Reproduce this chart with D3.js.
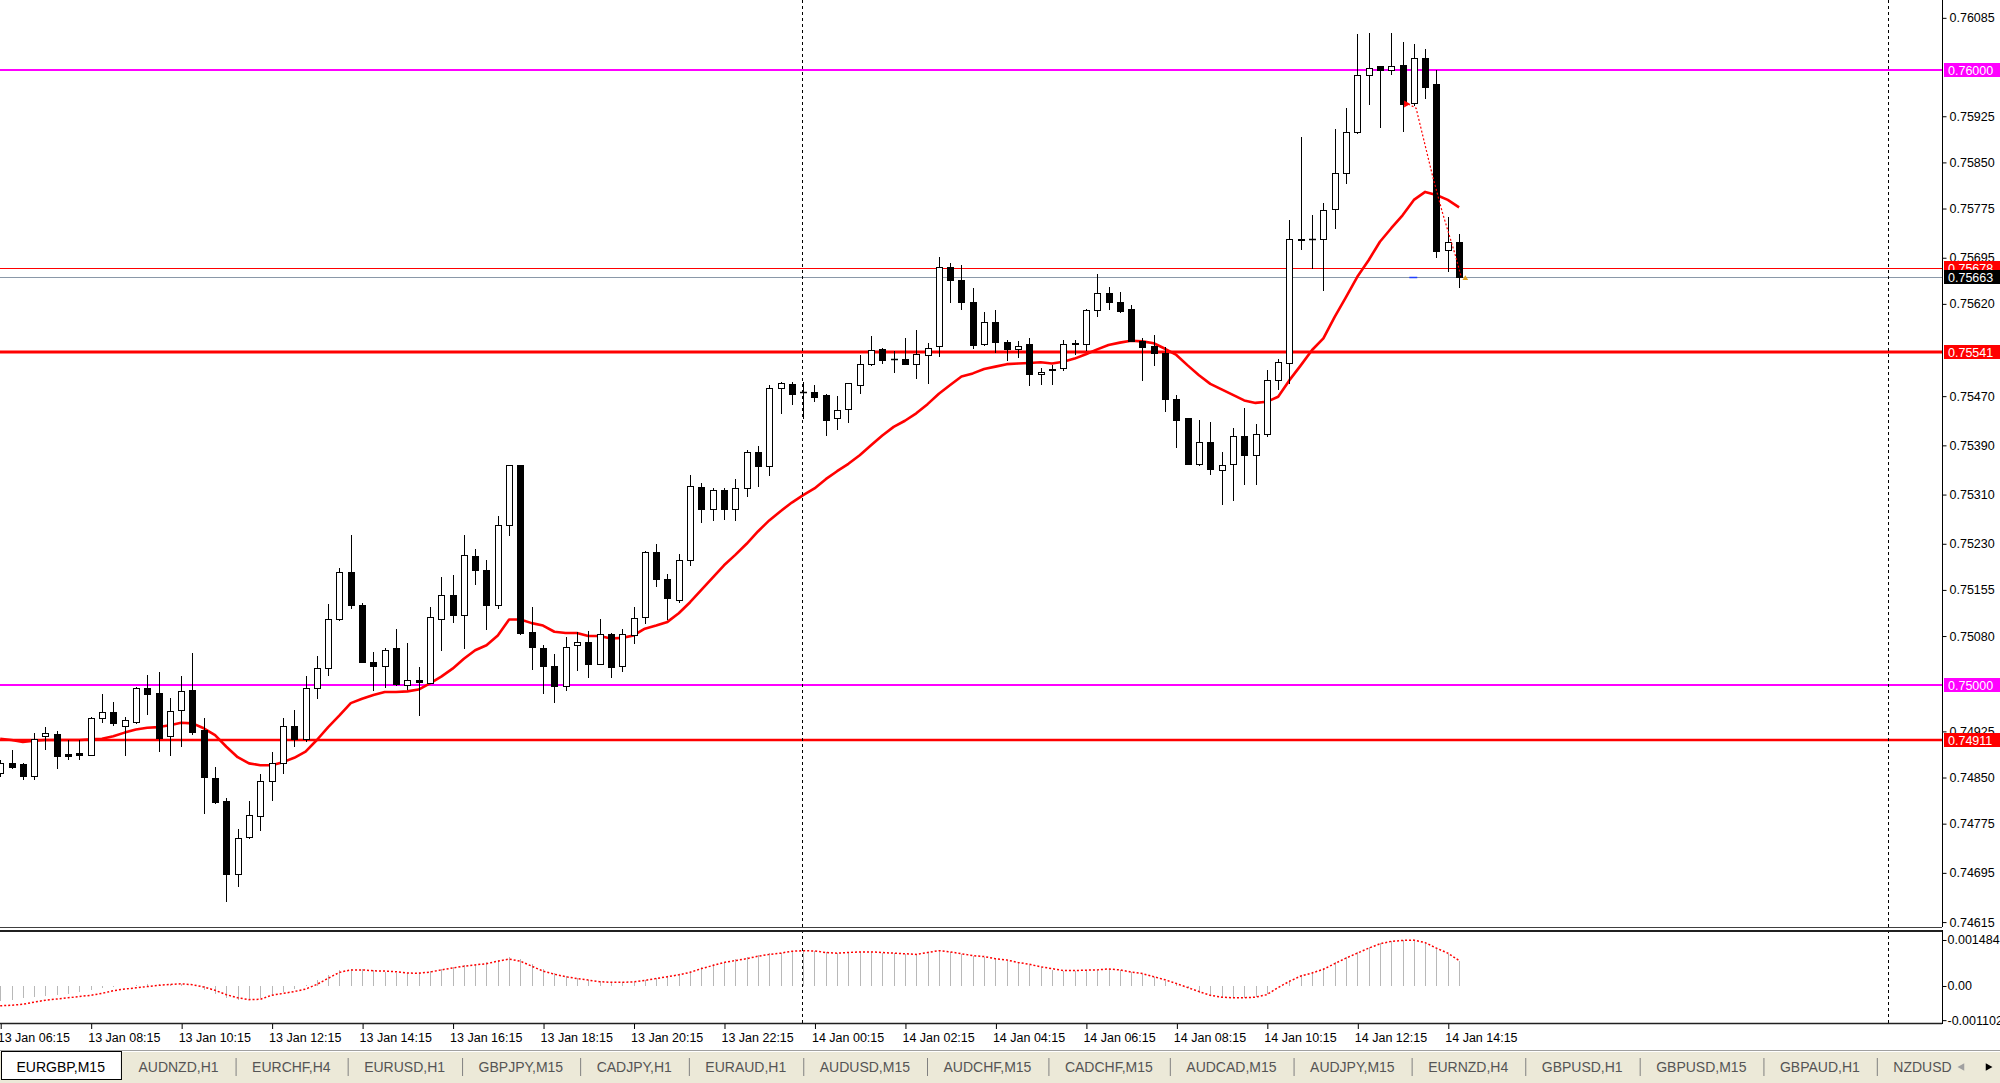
<!DOCTYPE html>
<html><head><meta charset="utf-8">
<script src="https://cdnjs.cloudflare.com/ajax/libs/d3/7.8.5/d3.min.js"></script>
<style>
body{margin:0;background:#fff;overflow:hidden}
svg{display:block}
text{font-family:"Liberation Sans",Arial,sans-serif}
</style>
</head><body>
<svg id="c" width="2000" height="1083"></svg>
<script>
// ---------------- DATA ----------------
const symbol = "EURGBP,M15";
const opens = [0.74858,0.74874,0.74872,0.74853,0.74917,0.74920,0.74888,0.74890,0.74887,0.74947,
0.74957,0.74934,0.74940,0.74996,0.74988,0.74918,0.74959,0.74992,0.74928,0.74849,
0.74812,0.74693,0.74754,0.74787,0.74844,0.74874,0.74933,0.74912,0.74996,0.75028,
0.75107,0.75184,0.75130,0.75037,0.75032,0.75061,0.75000,0.75009,0.75004,0.75108,
0.75146,0.75115,0.75210,0.75187,0.75131,0.75260,0.75358,0.75087,0.75061,0.75032,
0.74999,0.75065,0.75071,0.75035,0.75083,0.75032,0.75081,0.75111,0.75217,0.75172,
0.75138,0.75204,0.75322,0.75286,0.75318,0.75287,0.75320,0.75379,0.75356,0.75483,
0.75489,0.75476,0.75476,0.75472,0.75435,0.75449,0.75488,0.75522,0.75546,0.75531,
0.75530,0.75522,0.75537,0.75551,0.75680,0.75658,0.75623,0.75555,0.75591,0.75558,
0.75547,0.75554,0.75506,0.75514,0.75515,0.75556,0.75554,0.75610,0.75637,0.75623,
0.75612,0.75560,0.75552,0.75540,0.75465,0.75434,0.75359,0.75396,0.75350,0.75360,
0.75405,0.75375,0.75409,0.75497,0.75524,0.75724,0.75725,0.75725,0.75775,0.75832,
0.75899,0.75992,0.76007,0.76000,0.76008,0.75946,0.76019,0.75978,0.75708,0.75720];
const highs = [0.74878,0.74895,0.74874,0.74923,0.74932,0.74926,0.74911,0.74911,0.74949,0.74985,
0.74973,0.74948,0.74997,0.75017,0.75022,0.74980,0.75015,0.75052,0.74946,0.74867,
0.74817,0.74767,0.74812,0.74856,0.74891,0.74946,0.74959,0.75015,0.75047,0.75132,
0.75190,0.75245,0.75134,0.75054,0.75060,0.75092,0.75068,0.75029,0.75127,0.75176,
0.75180,0.75245,0.75222,0.75203,0.75275,0.75358,0.75358,0.75127,0.75065,0.75051,
0.75078,0.75086,0.75089,0.75107,0.75085,0.75092,0.75127,0.75218,0.75229,0.75181,
0.75214,0.75341,0.75329,0.75320,0.75320,0.75336,0.75382,0.75389,0.75488,0.75493,
0.75493,0.75493,0.75488,0.75473,0.75471,0.75492,0.75537,0.75568,0.75549,0.75543,
0.75564,0.75578,0.75557,0.75696,0.75686,0.75684,0.75645,0.75606,0.75610,0.75562,
0.75560,0.75564,0.75515,0.75520,0.75562,0.75562,0.75611,0.75668,0.75647,0.75640,
0.75618,0.75564,0.75569,0.75550,0.75472,0.75434,0.75432,0.75428,0.75379,0.75419,
0.75451,0.75424,0.75513,0.75531,0.75757,0.75891,0.75764,0.75784,0.75904,0.75939,
0.76059,0.76061,0.76007,0.76061,0.76046,0.76042,0.76035,0.76001,0.75761,0.75734];
const lows = [0.74852,0.74866,0.74847,0.74847,0.74897,0.74865,0.74880,0.74880,0.74886,0.74940,
0.74935,0.74887,0.74939,0.74954,0.74893,0.74887,0.74901,0.74921,0.74793,0.74809,
0.74650,0.74674,0.74752,0.74765,0.74814,0.74858,0.74901,0.74909,0.74979,0.75016,
0.75106,0.75126,0.75037,0.74993,0.74997,0.75000,0.74994,0.74951,0.75003,0.75057,
0.75103,0.75060,0.75165,0.75091,0.75126,0.75245,0.75083,0.75027,0.74988,0.74972,
0.74993,0.75024,0.75014,0.75035,0.75014,0.75023,0.75069,0.75101,0.75161,0.75107,
0.75135,0.75195,0.75265,0.75268,0.75271,0.75269,0.75307,0.75324,0.75341,0.75443,
0.75457,0.75434,0.75462,0.75407,0.75416,0.75428,0.75475,0.75520,0.75524,0.75510,
0.75522,0.75499,0.75492,0.75536,0.75623,0.75611,0.75549,0.75553,0.75542,0.75528,
0.75533,0.75488,0.75489,0.75489,0.75512,0.75539,0.75545,0.75600,0.75611,0.75607,
0.75559,0.75496,0.75521,0.75446,0.75387,0.75359,0.75358,0.75343,0.75294,0.75301,
0.75327,0.75327,0.75405,0.75482,0.75492,0.75710,0.75678,0.75643,0.75743,0.75816,
0.75897,0.75945,0.75907,0.75994,0.75901,0.75943,0.75954,0.75697,0.75674,0.75647];
const closes = [0.74873,0.74867,0.74852,0.74913,0.74923,0.74885,0.74885,0.74887,0.74947,0.74956,
0.74938,0.74943,0.74996,0.74986,0.74914,0.74958,0.74991,0.74924,0.74851,0.74810,
0.74693,0.74752,0.74789,0.74844,0.74873,0.74933,0.74912,0.74996,0.75028,0.75107,
0.75184,0.75131,0.75037,0.75032,0.75058,0.75002,0.75009,0.75005,0.75111,0.75146,
0.75115,0.75212,0.75188,0.75131,0.75260,0.75358,0.75085,0.75062,0.75031,0.74999,
0.75062,0.75071,0.75035,0.75083,0.75030,0.75083,0.75110,0.75217,0.75172,0.75142,
0.75204,0.75324,0.75287,0.75318,0.75287,0.75320,0.75379,0.75356,0.75483,0.75491,
0.75473,0.75476,0.75469,0.75432,0.75448,0.75491,0.75522,0.75545,0.75529,0.75530,
0.75523,0.75539,0.75549,0.75680,0.75658,0.75623,0.75553,0.75591,0.75558,0.75547,
0.75552,0.75506,0.75510,0.75513,0.75554,0.75555,0.75610,0.75637,0.75623,0.75609,
0.75560,0.75550,0.75540,0.75465,0.75432,0.75359,0.75396,0.75351,0.75358,0.75405,
0.75375,0.75409,0.75497,0.75526,0.75725,0.75725,0.75726,0.75772,0.75833,0.75899,
0.75992,0.76003,0.76001,0.76007,0.75945,0.76019,0.75973,0.75706,0.75720,0.75663];
const movingAverage = [0.74913,0.74911,0.74908,0.74910,0.74911,0.74911,0.74911,0.74911,0.74912,0.74913,
0.74917,0.74923,0.74928,0.74931,0.74932,0.74935,0.74939,0.74938,0.74930,0.74919,
0.74900,0.74883,0.74873,0.74870,0.74870,0.74875,0.74882,0.74892,0.74911,0.74932,
0.74951,0.74971,0.74978,0.74984,0.74989,0.74989,0.74990,0.74993,0.75003,0.75014,
0.75027,0.75043,0.75057,0.75065,0.75081,0.75107,0.75107,0.75101,0.75097,0.75087,
0.75085,0.75085,0.75080,0.75080,0.75076,0.75077,0.75081,0.75092,0.75097,0.75103,
0.75117,0.75135,0.75155,0.75175,0.75195,0.75212,0.75230,0.75250,0.75268,0.75283,
0.75297,0.75309,0.75320,0.75335,0.75348,0.75360,0.75374,0.75390,0.75406,0.75420,
0.75430,0.75442,0.75457,0.75474,0.75488,0.75502,0.75507,0.75514,0.75518,0.75522,
0.75523,0.75524,0.75525,0.75523,0.75526,0.75531,0.75538,0.75546,0.75553,0.75557,
0.75560,0.75559,0.75556,0.75547,0.75537,0.75520,0.75504,0.75490,0.75481,0.75472,
0.75463,0.75459,0.75461,0.75469,0.75496,0.75520,0.75545,0.75564,0.75599,0.75631,
0.75664,0.75691,0.75721,0.75743,0.75764,0.75789,0.75802,0.75797,0.75789,0.75777];
// MACD (units of 1e-5)
const macdMain = [-50,-45,-40,-37,-33,-30,-25,-18,-12,-8,
-4,0,3,6,8,8,6,0,-12,-25,
-38,-45,-45,-40,-30,-20,-10,2,18,35,
50,56,54,50,46,43,42,44,48,55,
62,68,72,78,85,92,88,72,55,42,
32,25,20,15,12,12,14,20,27,33,
40,48,60,70,78,86,92,100,105,108,
114,116,114,109,106,108,110,110,107,105,
103,101,109,115,110,103,97,93,86,82,
74,67,60,53,48,48,50,53,56,52,
44,38,28,17,5,-8,-22,-33,-38,-40,
-40,-35,-25,0,20,35,45,58,76,95,
110,125,138,146,149,150,140,120,104,80];
const macdSignal = [-64,-62,-59,-52,-46,-42,-38,-34,-30,-24,
-15,-10,-6,-2,2,5,7,4,-3,-14,
-28,-38,-44,-43,-30,-24,-18,-10,5,25,
44,52,52,49,48,46,42,41,45,52,
58,64,68,72,80,87,80,64,48,38,
30,24,19,14,12,12,13,18,24,30,
36,44,56,66,76,82,88,96,102,106,
112,114,113,108,106,108,110,110,108,106,
104,102,108,114,110,104,98,95,88,84,
76,70,62,56,50,50,51,52,55,52,
45,40,30,20,8,-5,-18,-30,-36,-38,
-38,-36,-28,-5,15,32,42,54,72,90,
106,122,136,144,147,148,140,122,106,82];
const timeLabels = ["13 Jan 06:15","13 Jan 08:15","13 Jan 10:15","13 Jan 12:15","13 Jan 14:15","13 Jan 16:15",
"13 Jan 18:15","13 Jan 20:15","13 Jan 22:15","14 Jan 00:15","14 Jan 02:15","14 Jan 04:15",
"14 Jan 06:15","14 Jan 08:15","14 Jan 10:15","14 Jan 12:15","14 Jan 14:15"];
const timeLabelBars = [0,8,16,24,32,40,48,56,64,72,80,88,96,104,112,120,128];
const priceTicks = [0.76085,0.75925,0.75850,0.75775,0.75695,0.75620,0.75470,0.75390,0.75310,
0.75230,0.75155,0.75080,0.74925,0.74850,0.74775,0.74695,0.74615];
const indicatorTicks = [0.001484,0,-0.001102];
const indicatorTickLabels = ["0.001484","0.00","-0.001102"];
const magentaLevels = [0.76000,0.75000];
const redLevels = [0.75541,0.74911];
const thinRedLevel = 0.75678;
const bidPrice = 0.75663;
const daySeparatorBars = [71,167];
const tradeLineBars = [124.5,125.2,126.6,127.5,128.7,129.2];
const tradeLinePrices = [0.75945,0.75938,0.75832,0.75770,0.75697,0.75663];
const tabNames = ["EURGBP,M15","AUDNZD,H1","EURCHF,H4","EURUSD,H1","GBPJPY,M15","CADJPY,H1","EURAUD,H1",
"AUDUSD,M15","AUDCHF,M15","CADCHF,M15","AUDCAD,M15","AUDJPY,M15","EURNZD,H4","GBPUSD,H1","GBPUSD,M15",
"GBPAUD,H1","NZDUSD,"];

// ---------------- LAYOUT ----------------
const svg = d3.select("#c");
const axisX = 1942, mainBottom = 927, indTop = 932, indBottom = 1023;
const x = d3.scaleLinear().domain([0, 171.7]).range([0.2, axisX]);
const y = d3.scaleLinear().domain([0.74607, 0.76114]).range([mainBottom, 0]);
const yi = d3.scaleLinear().domain([-0.001194, 0.001742]).range([indBottom, indTop]);
const fmt = d3.format(".5f");
const bars = d3.range(opens.length);
const px = i => Math.round(x(i));
const py = v => Math.round(y(v));

const defs = svg.append("defs");
defs.append("clipPath").attr("id","mainClip").append("rect").attr("x",0).attr("y",0).attr("width",axisX).attr("height",mainBottom);
defs.append("clipPath").attr("id","indClip").append("rect").attr("x",0).attr("y",indTop).attr("width",axisX).attr("height",indBottom-indTop);
defs.append("clipPath").attr("id","tabClip").append("rect").attr("x",0).attr("y",1040).attr("width",1952).attr("height",43);

const main = svg.append("g").attr("clip-path","url(#mainClip)");

// horizontal levels (behind candles)
main.selectAll(".mag").data(magentaLevels).join("line")
  .attr("x1",0).attr("x2",axisX).attr("y1",d=>py(d)).attr("y2",d=>py(d))
  .attr("stroke","#ff00ff").attr("stroke-width",2);
main.selectAll(".red").data(redLevels).join("line")
  .attr("x1",0).attr("x2",axisX).attr("y1",d=>py(d)).attr("y2",d=>py(d))
  .attr("stroke","#ff0000").attr("stroke-width",(d,i)=>i===0?3:2.5);
main.append("line").attr("x1",0).attr("x2",axisX).attr("y1",py(thinRedLevel)+0.5).attr("y2",py(thinRedLevel)+0.5)
  .attr("stroke","#ff0000").attr("stroke-width",1);
main.append("line").attr("x1",0).attr("x2",axisX).attr("y1",py(bidPrice)+0.5).attr("y2",py(bidPrice)+0.5)
  .attr("stroke","#8a98a8").attr("stroke-width",1);

// moving average
main.append("path").datum(bars)
  .attr("d", d3.line().x(i=>x(i)).y(i=>y(movingAverage[i])))
  .attr("fill","none").attr("stroke","#ff0000").attr("stroke-width",2.6).attr("stroke-linejoin","round");

// candles
const cg = main.append("g");
cg.selectAll(".wick").data(bars).join("line")
  .attr("x1",i=>px(i)+0.5).attr("x2",i=>px(i)+0.5)
  .attr("y1",i=>py(highs[i])).attr("y2",i=>py(lows[i])+1)
  .attr("stroke","#000").attr("stroke-width",1);
bars.forEach(i=>{
  const top = py(Math.max(opens[i],closes[i])), bot = py(Math.min(opens[i],closes[i]));
  const bull = closes[i] >= opens[i];
  if (bot - top < 1) {
    cg.append("line").attr("x1",px(i)-3).attr("x2",px(i)+4).attr("y1",top+0.5).attr("y2",top+0.5)
      .attr("stroke","#000").attr("stroke-width",1.5);
  } else {
    cg.append("rect").attr("x",px(i)-3+0.5).attr("y",top+0.5).attr("width",6).attr("height",bot-top)
      .attr("fill",bull?"#fff":"#000").attr("stroke","#000").attr("stroke-width",1);
  }
});

// trade line & markers
main.append("path").datum(d3.range(tradeLineBars.length))
  .attr("d", d3.line().x(k=>x(tradeLineBars[k])).y(k=>y(tradeLinePrices[k])))
  .attr("fill","none").attr("stroke","#ff0000").attr("stroke-width",1.2).attr("stroke-dasharray","2,2");
main.append("path").attr("d", d3.symbol(d3.symbolTriangle,22)())
  .attr("transform",`translate(${x(tradeLineBars[0])-2},${y(tradeLinePrices[0])}) rotate(90)`).attr("fill","#ff0000");
main.append("line").attr("x1",x(124.6)).attr("x2",x(125.3)).attr("y1",py(bidPrice)+0.5).attr("y2",py(bidPrice)+0.5)
  .attr("stroke","#2040ff").attr("stroke-width",1.5);
main.append("path").attr("d", d3.symbol(d3.symbolTriangle,14)())
  .attr("transform",`translate(${x(129.55)},${y(bidPrice)+1})`).attr("fill","#e0a020");

// day separators
svg.selectAll(".sep").data(daySeparatorBars).join("line")
  .attr("x1",d=>px(d)-0.5).attr("x2",d=>px(d)-0.5).attr("y1",0).attr("y2",indBottom)
  .attr("stroke","#000").attr("stroke-width",1).attr("stroke-dasharray","3,3");

// indicator panel
const ind = svg.append("g").attr("clip-path","url(#indClip)");
ind.selectAll(".hist").data(bars).join("line")
  .attr("x1",i=>px(i)+0.5).attr("x2",i=>px(i)+0.5)
  .attr("y1",Math.round(yi(0))).attr("y2",i=>Math.round(yi(macdMain[i]*1e-5)))
  .attr("stroke","#b8b8b8").attr("stroke-width",1);
ind.append("path").datum(bars)
  .attr("d", d3.line().x(i=>x(i)).y(i=>yi(macdSignal[i]*1e-5)))
  .attr("fill","none").attr("stroke","#ff0000").attr("stroke-width",1.5).attr("stroke-dasharray","2,2");

// panel frames
svg.append("line").attr("x1",0).attr("x2",axisX).attr("y1",mainBottom+0.5).attr("y2",mainBottom+0.5).attr("stroke","#404040");
svg.append("line").attr("x1",0).attr("x2",axisX).attr("y1",indTop-1).attr("y2",indTop-1).attr("stroke","#202020").attr("stroke-width",2);
svg.append("line").attr("x1",0).attr("x2",axisX).attr("y1",indBottom+0.5).attr("y2",indBottom+0.5).attr("stroke","#202020").attr("stroke-width",1.5);

// price axis
const pa = svg.append("g").attr("transform",`translate(${axisX+0.5},0)`)
  .call(d3.axisRight(y).tickValues(priceTicks).tickFormat(fmt).tickSize(4).tickPadding(3));
pa.select(".domain").attr("d",`M0,0V${mainBottom}`);
pa.selectAll("text").attr("font-family","Liberation Sans").attr("font-size",12.5).attr("fill","#000");

// indicator axis
const ia = svg.append("g").attr("transform",`translate(${axisX+0.5},0)`)
  .call(d3.axisRight(yi).tickValues(indicatorTicks).tickFormat((d,i)=>indicatorTickLabels[i]).tickSize(4).tickPadding(1));
ia.select(".domain").attr("d",`M0,${indTop-2}V${indBottom+1}`);
ia.selectAll("text").attr("font-family","Liberation Sans").attr("font-size",12.5).attr("fill","#000");

// level labels
function levelLabel(price, bg, fg){
  const g = svg.append("g");
  g.append("rect").attr("x",axisX+2).attr("y",py(price)-7).attr("width",56).attr("height",14).attr("fill",bg);
  g.append("text").attr("x",axisX+6).attr("y",py(price)+4.5).attr("font-size",12.5).attr("fill",fg).text(fmt(price));
}
magentaLevels.forEach(p=>levelLabel(p,"#ff00ff","#fff"));
redLevels.forEach(p=>levelLabel(p,"#ff0000","#fff"));
levelLabel(thinRedLevel,"#ff0000","#fff");
levelLabel(bidPrice,"#000","#fff");

// time axis
const ta = svg.append("g").attr("transform",`translate(0,${indBottom+1})`)
  .call(d3.axisBottom(x).tickValues(timeLabelBars).tickFormat((d,i)=>timeLabels[i]).tickSize(5).tickPadding(4));
ta.select(".domain").remove();
ta.selectAll(".tick line").attr("transform","translate(0.5,0)");
ta.selectAll("text").attr("text-anchor","start").attr("dx",-3).attr("font-family","Liberation Sans").attr("font-size",12.5).attr("fill","#000");

// tab bar
svg.append("rect").attr("x",0).attr("y",1050).attr("width",2000).attr("height",33).attr("fill","#ece9d8");
svg.append("line").attr("x1",0).attr("x2",2000).attr("y1",1050.5).attr("y2",1050.5).attr("stroke","#a0a0a0");
svg.append("line").attr("x1",0).attr("x2",2000).attr("y1",1051.5).attr("y2",1051.5).attr("stroke","#fff");
const tg = svg.append("g").attr("clip-path","url(#tabClip)");
let tx = 0;
tabNames.forEach((name,k)=>{
  const t = tg.append("text").attr("y",1072).attr("font-size",14).attr("fill",k===0?"#000":"#555").text(name);
  const w = t.node().getComputedTextLength();
  const tabW = w + 33.5;
  t.attr("x", tx + 16.5);
  if (k===0) {
    tg.insert("rect","text").attr("x",1.5).attr("y",1051.5).attr("width",tabW-2).attr("height",28)
      .attr("fill","#fff").attr("stroke","#000").attr("stroke-width",1);
  } else {
    tg.append("line").attr("x1",tx+tabW+0.5).attr("x2",tx+tabW+0.5).attr("y1",1058).attr("y2",1076).attr("stroke","#808080");
  }
  tx += tabW;
});
svg.append("rect").attr("x",1952).attr("y",1052).attr("width",48).attr("height",31).attr("fill","#ece9d8");
svg.append("path").attr("d",d3.symbol(d3.symbolTriangle,26)()).attr("transform","translate(1962,1067) rotate(-90)").attr("fill","#a0a0a0");
svg.append("path").attr("d",d3.symbol(d3.symbolTriangle,26)()).attr("transform","translate(1988,1067) rotate(90)").attr("fill","#000");
</script>
</body></html>
